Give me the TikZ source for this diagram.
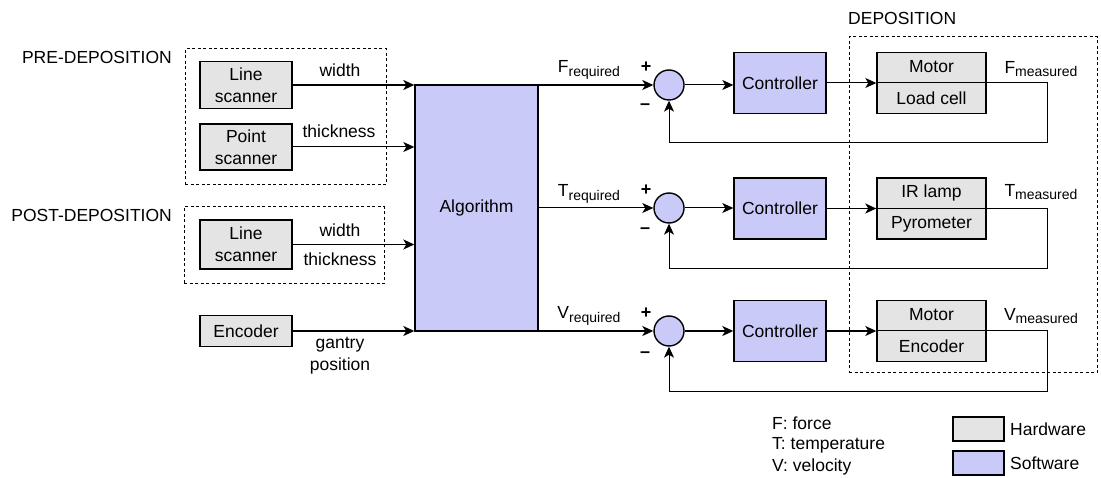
\documentclass[tikz,border=0pt]{standalone}
\usepackage{fontspec}
\setmainfont{Liberation Sans}
\usetikzlibrary{arrows.meta}
\definecolor{hw}{HTML}{E4E4E4}
\definecolor{sw}{HTML}{CACAF8}
\newcommand{\rsub}[1]{\raisebox{-0.4ex}{\fontsize{14}{14}\selectfont #1}}
\begin{document}
\begin{tikzpicture}[x=1pt,y=-1pt,
  every node/.style={font=\fontsize{17.5}{22}\selectfont, inner sep=0pt, align=center},
  hwbox/.style={draw, fill=hw, line width=1.4pt, minimum width=92pt},
  swbox/.style={draw, fill=sw, line width=1.4pt},
  sumnode/.style={draw, circle, fill=sw, line width=1.4pt, minimum size=30pt},
  grp/.style={draw, dash pattern=on 3pt off 2.5pt, line width=1pt},
  thk/.style={line width=1.5pt},
  thn/.style={line width=1pt},
  tip/.style={-{Stealth[length=11pt,width=10pt,inset=3pt]}},
  sgn/.style={font=\fontsize{18}{18}\selectfont\bfseries}
]
\useasboundingbox (0,0) rectangle (1101,478);
% group boxes
\node[grp, minimum width=201pt, minimum height=136pt] (pre) at (285.5,117) {};
\node[grp, minimum width=200pt, minimum height=77pt] (post) at (284,245.5) {};
\node[grp, minimum width=248pt, minimum height=336pt] (dep) at (973,205) {};
\node[anchor=east] (prel) at (172,57) {PRE-DEPOSITION};
\node[anchor=east] (postl) at (172,215) {POST-DEPOSITION};
\node[anchor=west] (depl) at (848,18) {DEPOSITION};
% sensors
\node[hwbox, minimum height=47pt] (ls1) at (246,85) {Line\\scanner};
\node[hwbox, minimum height=46pt] (ps) at (246,147) {Point\\scanner};
\node[hwbox, minimum height=49pt] (ls2) at (246,244.5) {Line\\scanner};
\node[hwbox, minimum height=31pt] (enc) at (246,331) {Encoder};
\node[swbox, minimum width=123pt, minimum height=246pt] (alg) at (476.5,208) {Algorithm};
\draw[thk,tip] (ls1.east) -- (ls1.east -| alg.west);
\draw[thn,tip] (ps.east) -- (ps.east -| alg.west);
\draw[thk,tip] (ls2.east) -- (ls2.east -| alg.west);
\draw[thk,tip] (enc.east) -- (enc.east -| alg.west);
\node (lw1) at (340,70) {width};
\node (lt1) at (339,131) {thickness};
\node (lw2) at (340,230) {width};
\node (lt2) at (340,259) {thickness};
\node (lg) at (340,356) {gantry\\position};
% loops
\node[sumnode] (s1) at (669,85) {};
\node[sumnode] (s2) at (669,208) {};
\node[sumnode] (s3) at (669,331) {};
\node[swbox, minimum width=92pt, minimum height=61pt] (c1) at (780,83) {Controller};
\node[swbox, minimum width=92pt, minimum height=61pt] (c2) at (780,208.5) {Controller};
\node[swbox, minimum width=92pt, minimum height=61pt] (c3) at (780,331) {Controller};
\node[hwbox, minimum width=109pt, minimum height=61pt] (p1) at (931.5,83) {};
\node[hwbox, minimum width=109pt, minimum height=61pt] (p2) at (931.5,208.5) {};
\node[hwbox, minimum width=109pt, minimum height=61pt] (p3) at (931.5,331) {};
\node (p1t) at (931.5,67) {Motor};
\node (p1b) at (931.5,98) {Load cell};
\node (p2t) at (931.5,193) {IR lamp};
\node (p2b) at (931.5,224) {Pyrometer};
\node (p3t) at (931.5,315) {Motor};
\node (p3b) at (931.5,346) {Encoder};
% required
\draw[thk,tip] (s1 -| alg.east) -- (s1.west);
\draw[thn,tip] (s2 -| alg.east) -- (s2.west);
\draw[thk,tip] (s3 -| alg.east) -- (s3.west);
\node (fr) at (589,70) {F\rsub{required}};
\node (tr) at (589,194) {T\rsub{required}};
\node (vr) at (589,316) {V\rsub{required}};
\node[sgn] (s1p) at (646,67) {+};
\node[sgn] (s1m) at (645,107) {\textendash};
\node[sgn] (s2p) at (646,190) {+};
\node[sgn] (s2m) at (645,231) {\textendash};
\node[sgn] (s3p) at (646,313) {+};
\node[sgn] (s3m) at (645,355) {\textendash};
% forward
\draw[thn,tip] (s1.east) -- (s1.east -| c1.west);
\draw[thn,tip] (s2.east) -- (s2.east -| c2.west);
\draw[thk,tip] (s3.east) -- (s3.east -| c3.west);
\draw[thn,tip] (c1.east) -- (p1.west);
\draw[thk,tip] (c2.east) -- (p2.west);
\draw[thk,tip] (c3.east) -- (p3.west);
% feedback
\coordinate (f1a) at (1047,83);
\coordinate (f1b) at (1047,143);
\coordinate (f2a) at (1047,208.5);
\coordinate (f2b) at (1047,269);
\coordinate (f3a) at (1047,331);
\coordinate (f3b) at (1047,392);
\draw[thn,tip] (p1.west) -- (f1a) -- (f1b) -| (s1.south);
\draw[thn,tip] (p2.west) -- (f2a) -- (f2b) -| (s2.south);
\draw[thn,tip] (p3.west) -- (f3a) -- (f3b) -| (s3.south);
\node (fm) at (1041,69) {F\rsub{measured}};
\node (tm) at (1041,192) {T\rsub{measured}};
\node (vm) at (1041,316) {V\rsub{measured}};
% legend
\node[anchor=west] (lf) at (772,423) {F: force};
\node[anchor=west] (lt) at (772,445) {T: temperature};
\node[anchor=west] (lv) at (772,467) {V: velocity};
\node[draw, fill=hw, line width=1.4pt, minimum width=51pt, minimum height=24pt] (hwk) at (978.5,429) {};
\node[draw, fill=sw, line width=1.4pt, minimum width=51pt, minimum height=24pt] (swk) at (978.5,463) {};
\node[anchor=west] (hwl) at (1010,429) {Hardware};
\node[anchor=west] (swl) at (1010,463) {Software};
\end{tikzpicture}
\end{document}
